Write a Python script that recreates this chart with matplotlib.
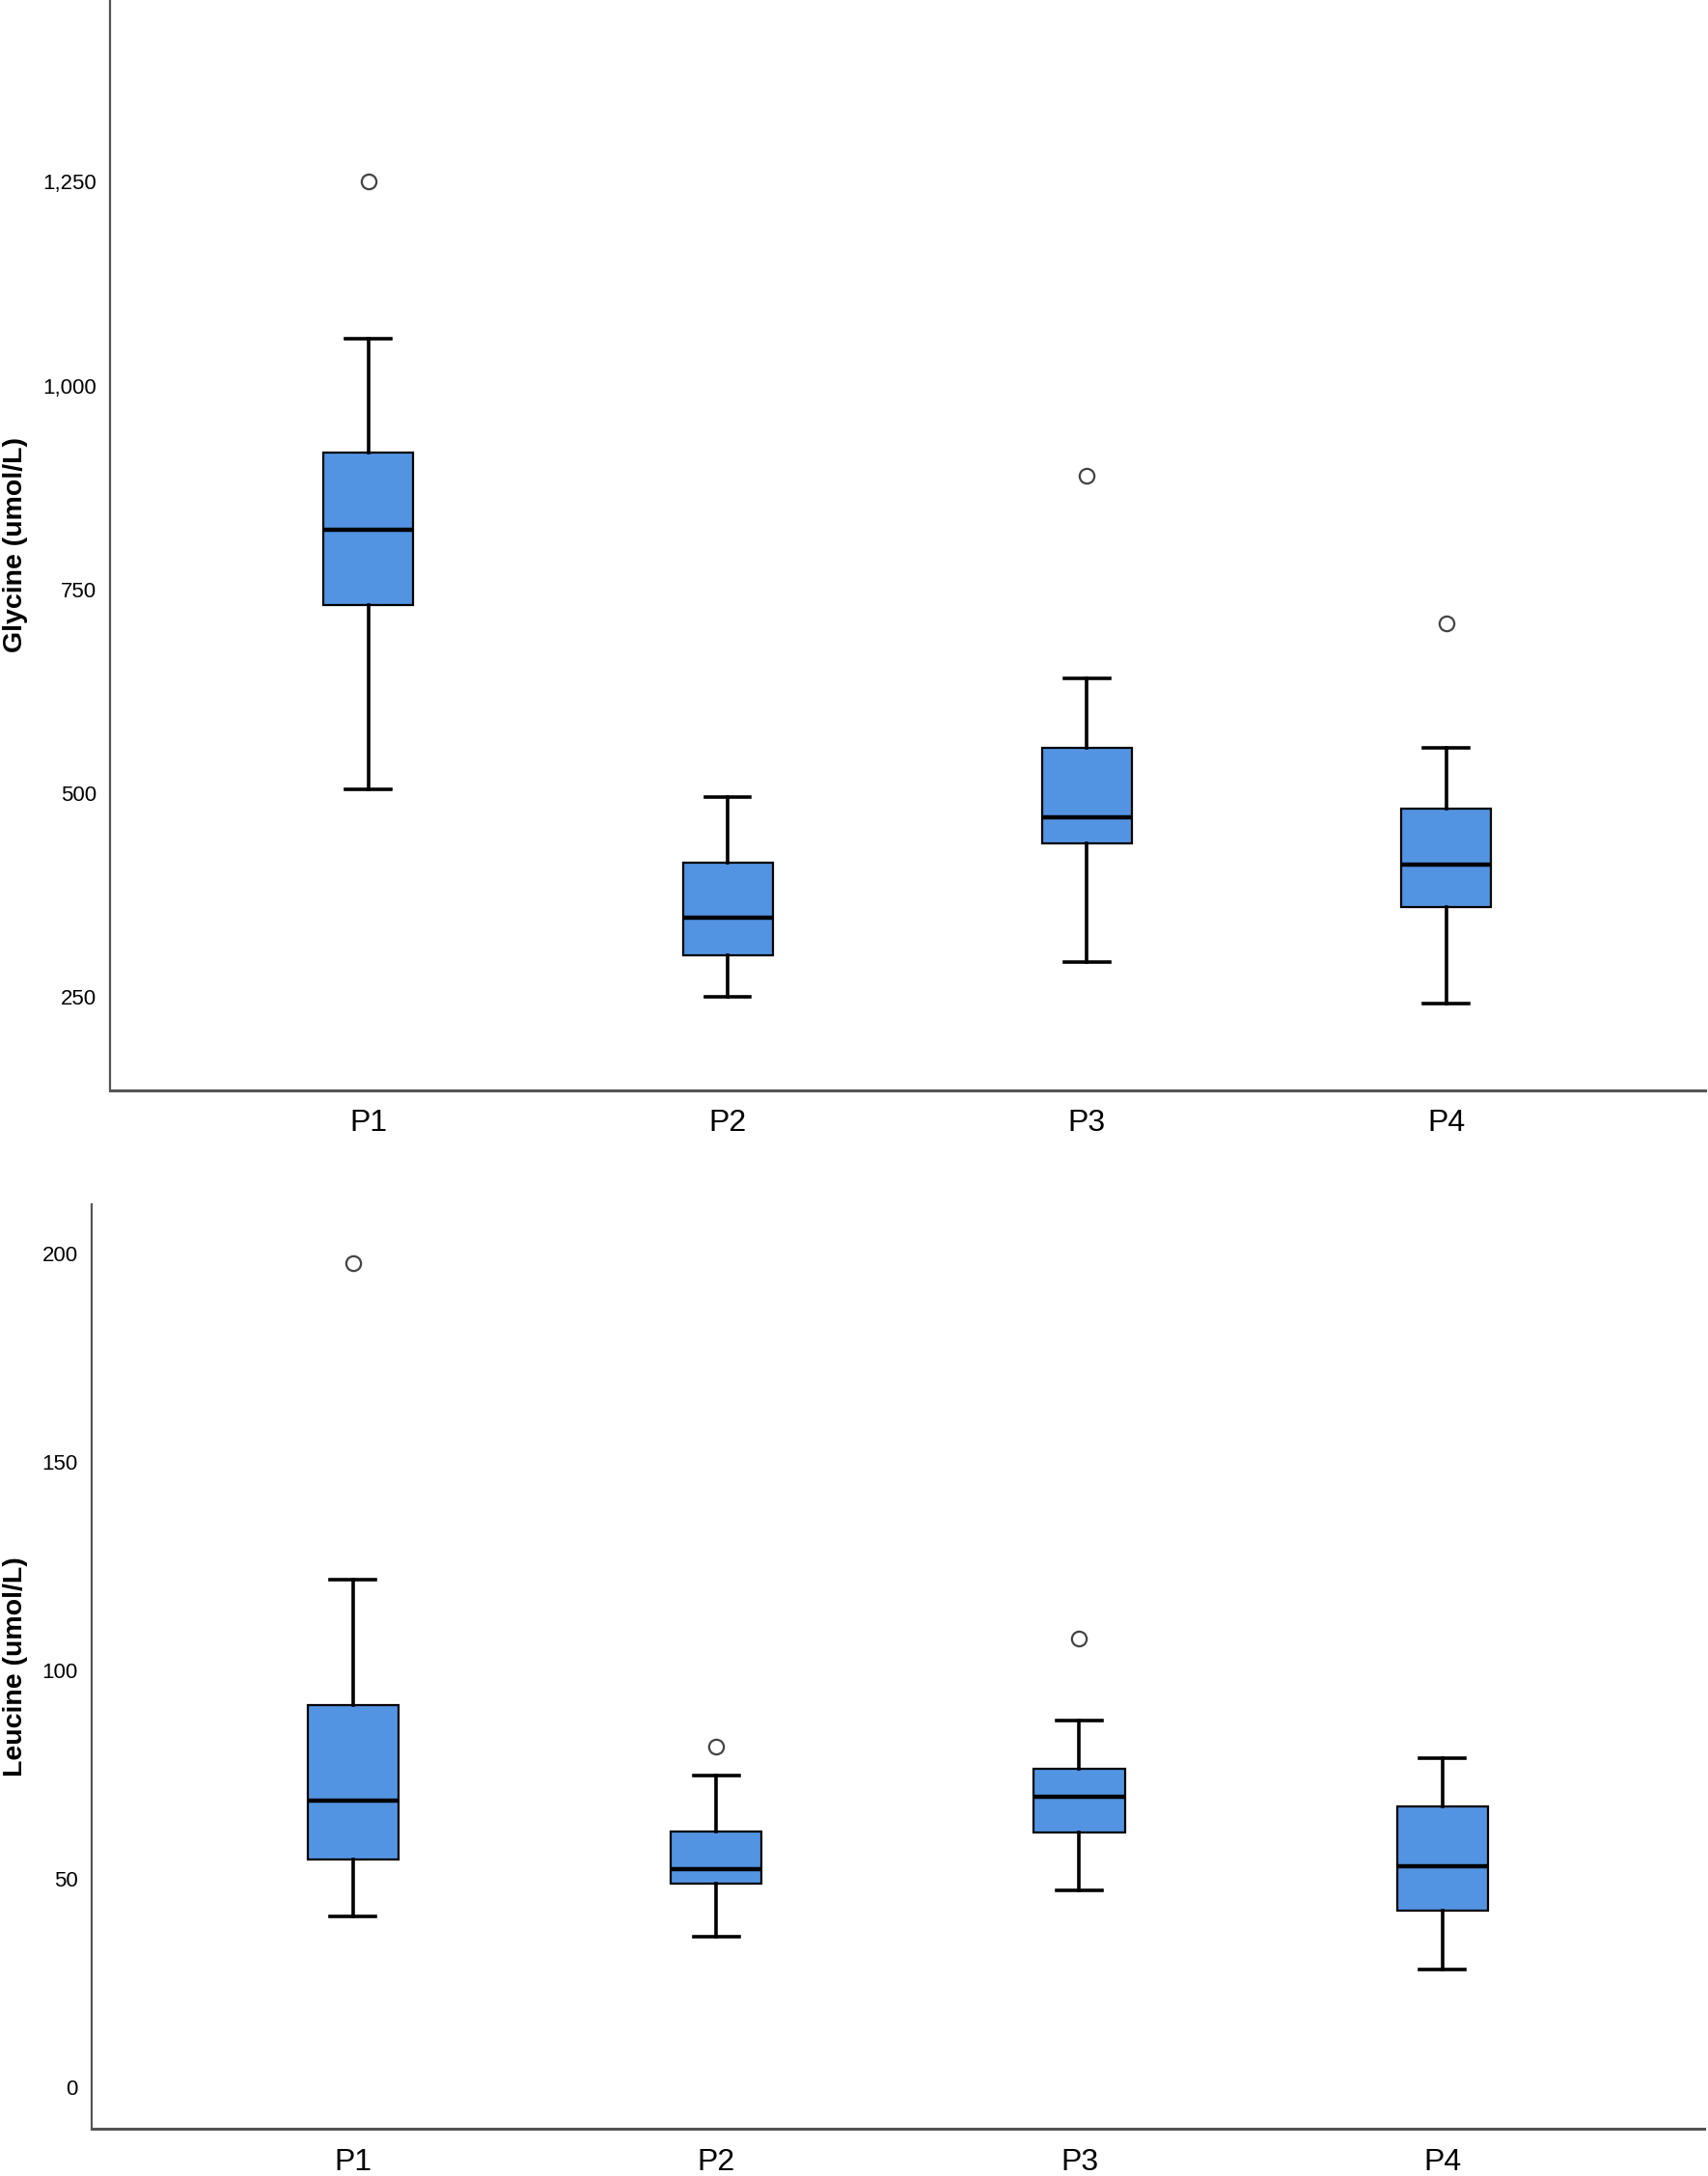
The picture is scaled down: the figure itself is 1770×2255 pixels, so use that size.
import matplotlib.pyplot as plt
from matplotlib.ticker import FuncFormatter

groups = ["P1", "P2", "P3", "P4"]

# Glycine (umol/L)
gly_low = [505, 250, 293, 242]
gly_q1 = [731, 301, 439, 361]
gly_med = [823, 347, 471, 413]
gly_q3 = [918, 415, 556, 481]
gly_high = [1058, 495, 641, 556]
gly_out = [[1250], [], [890], [709]]

# Leucine (umol/L)
leu_low = [41, 36, 47.3, 28.3]
leu_q1 = [54.7, 48.7, 61, 42.3]
leu_med = [68.7, 52.3, 69.7, 53]
leu_q3 = [91.7, 61.3, 76.3, 67.3]
leu_high = [121.7, 74.7, 88, 79]
leu_out = [[197.7], [81.7], [107.7], []]

box_color = "#5394E2"
plt.rcParams['font.family'] = ['Liberation Sans', 'DejaVu Sans']


def make_stats(low, q1, med, q3, high, out):
    stats = []
    for i in range(len(low)):
        stats.append(dict(whislo=low[i], q1=q1[i], med=med[i], q3=q3[i],
                          whishi=high[i], fliers=out[i]))
    return stats


def draw(ax, stats, yticks, ylim, ylabel, fmt):
    ax.bxp(stats, positions=range(1, 5), widths=0.25, patch_artist=True,
           capwidths=0.125,
           boxprops=dict(facecolor=box_color, edgecolor="black", linewidth=1.6),
           medianprops=dict(color="black", linewidth=3.2),
           whiskerprops=dict(color="black", linewidth=2.6),
           capprops=dict(color="black", linewidth=2.6),
           flierprops=dict(marker="o", markerfacecolor="white",
                           markeredgecolor="#444444", markersize=11,
                           markeredgewidth=1.6))
    ax.set_xlim(0.28, 4.72)
    ax.set_ylim(*ylim)
    ax.set_yticks(yticks)
    ax.yaxis.set_major_formatter(FuncFormatter(fmt))
    ax.set_xticks(range(1, 5))
    ax.set_xticklabels(groups, fontsize=23)
    ax.tick_params(axis="both", length=0)
    ax.tick_params(axis="y", labelsize=16, pad=10)
    ax.tick_params(axis="x", pad=14)
    ax.spines["top"].set_visible(False)
    ax.spines["right"].set_visible(False)
    ax.spines["left"].set_color("#555555")
    ax.spines["bottom"].set_color("#555555")
    ax.spines["left"].set_linewidth(1.6)
    ax.spines["bottom"].set_linewidth(2.2)
    ax.set_ylabel(ylabel, fontsize=20.5, fontweight="bold")


fig = plt.figure(figsize=(17.7, 22.55), dpi=100)

ax1 = fig.add_axes([0.0642, 0.499, 0.934, 0.501])
draw(ax1, make_stats(gly_low, gly_q1, gly_med, gly_q3, gly_high, gly_out),
     [250, 500, 750, 1000, 1250], (136, 1473), "Glycine (umol/L)",
     lambda v, p: f"{int(v):,}")
ax1.yaxis.set_label_coords(-0.051, 0.5)

ax2 = fig.add_axes([0.0536, 0.0217, 0.944, 0.4247])
draw(ax2, make_stats(leu_low, leu_q1, leu_med, leu_q3, leu_high, leu_out),
     [0, 50, 100, 150, 200], (-10, 211.7), "Leucine (umol/L)",
     lambda v, p: f"{int(v)}")
ax2.yaxis.set_label_coords(-0.0395, 0.5)

fig.savefig("out.png", dpi=100)
